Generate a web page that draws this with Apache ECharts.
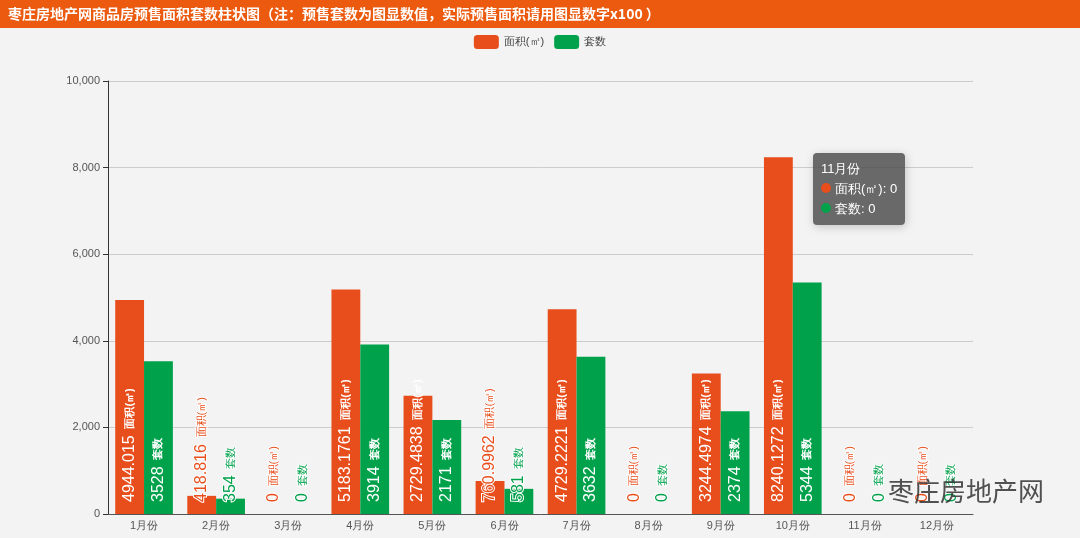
<!DOCTYPE html>
<html><head><meta charset="utf-8">
<script src="https://cdn.jsdelivr.net/npm/echarts@6/dist/echarts.min.js"></script>
<style>html,body{margin:0;padding:0;background:#f3f3f3}#c{width:1080px;height:538px}</style>
</head><body><div id="c"></div>
<script>
var categories = ['1月份','2月份','3月份','4月份','5月份','6月份','7月份','8月份','9月份','10月份','11月份','12月份'];
var areaValues = [4944.015, 418.816, 0, 5183.1761, 2729.4838, 760.9962, 4729.2221, 0, 3244.4974, 8240.1272, 0, 0];
var countValues = [3528, 354, 0, 3914, 2171, 581, 3632, 0, 2374, 5344, 0, 0];
var seriesNames = ['面积(㎡)', '套数'];
var seriesColors = ['#e84e1c', '#00a14b'];
var titleText = '枣庄房地产网商品房预售面积套数柱状图（注：预售套数为图显数值，实际预售面积请用图显数字x100 ）';

var chart = echarts.init(document.getElementById('c'));
function makeData(vals, color, threshold) {
  return vals.map(function (v) {
    var big = v >= threshold;
    return {
      value: v,
      label: big ? {
        rich: {
          v: {color: '#fff', fontSize: 16},
          n: {color: '#fff', fontSize: 11, fontWeight: 'bold'}
        }
      } : {
        rich: {
          v: {color: color, fontSize: 16, textBorderColor: '#fff', textBorderWidth: 2},
          n: {color: color, fontSize: 11, textBorderColor: '#fff', textBorderWidth: 2}
        }
      }
    };
  });
}
function makeSeries(i, vals, threshold) {
  return {
    name: seriesNames[i], type: 'bar', barGap: 0, barCategoryGap: '20%',
    itemStyle: {color: seriesColors[i]},
    label: {
      show: true, position: 'insideBottom', rotate: 90, align: 'left', verticalAlign: 'middle',
      distance: 12,
      formatter: function (p) { return '{v|' + p.value + '}  {n|' + p.seriesName + '}'; }
    },
    data: makeData(vals, seriesColors[i], threshold)
  };
}
chart.setOption({
  backgroundColor: '#f3f3f3',
  animation: false,
  graphic: [
    {type: 'rect', left: 0, top: 0, shape: {width: 1080, height: 28}, style: {fill: '#eb5a0f'}, z: 0},
    {type: 'text', left: 8, top: 7, style: {text: titleText, fill: '#fff', font: 'bold 14px "Noto Sans CJK SC", sans-serif'}, z: 1},
    {type: 'text', left: 888, top: 478, style: {text: '枣庄房地产网', fill: '#333', font: '26px "Noto Sans CJK SC", sans-serif', opacity: 0.85}, z: 100}
  ],
  legend: {
    top: 30, left: 'center', itemWidth: 25, itemHeight: 14, itemGap: 10,
    textStyle: {color: '#444', fontSize: 11},
    data: seriesNames
  },
  tooltip: {
    trigger: 'axis', alwaysShowContent: true,
    axisPointer: {type: 'none'},
    backgroundColor: 'rgba(80,80,80,0.85)', borderWidth: 0, padding: [6, 8],
    textStyle: {color: '#fff', fontSize: 13},
    position: [813, 153],
    formatter: function (ps) {
      var s = ps[0].name;
      ps.forEach(function (p) {
        s += '<br/><span style="display:inline-block;width:10px;height:10px;border-radius:5px;background:' + p.color + ';margin-right:4px"></span>' + p.seriesName + ': ' + p.value;
      });
      return s;
    }
  },
  grid: {left: 108, right: 107, top: 81, bottom: 24},
  xAxis: {
    type: 'category', data: categories,
    axisLine: {lineStyle: {color: '#555'}},
    axisTick: {lineStyle: {color: '#555'}},
    axisLabel: {color: '#555', fontSize: 11, margin: 6}
  },
  yAxis: {
    type: 'value', min: 0, max: 10000, interval: 2000,
    axisLine: {show: true, lineStyle: {color: '#333'}},
    axisTick: {show: true, lineStyle: {color: '#333'}},
    axisLabel: {color: '#555', fontSize: 11, formatter: function (v) { return v.toLocaleString('en-US'); }},
    splitLine: {lineStyle: {color: '#ccc'}}
  },
  series: [makeSeries(0, areaValues, 2000), makeSeries(1, countValues, 1500)]
});
chart.dispatchAction({type: 'showTip', seriesIndex: 0, dataIndex: 10});
</script></body></html>
